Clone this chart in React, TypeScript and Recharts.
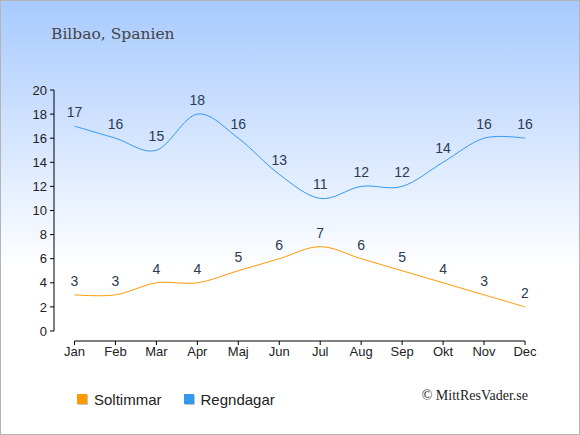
import React from "react";
import {
  LineChart,
  Line,
  XAxis,
  YAxis,
  LabelList,
  ReferenceLine,
} from "recharts";

// Bilbao — sun hours vs rainy days per month
const MONTHS = ["Jan", "Feb", "Mar", "Apr", "Maj", "Jun", "Jul", "Aug", "Sep", "Okt", "Nov", "Dec"];
const SOLTIMMAR = [3, 3, 4, 4, 5, 6, 7, 6, 5, 4, 3, 2];
const REGNDAGAR = [17, 16, 15, 18, 16, 13, 11, 12, 12, 14, 16, 16];
const Y_TICKS = [0, 2, 4, 6, 8, 10, 12, 14, 16, 18, 20];
const X_TICKS = MONTHS.map((_, i) => i);

// axis domains leave a small gap at the corner, like the original
const X_MIN = -0.5;
const Y_MIN = -0.83;

const data = MONTHS.map((m, i) => ({
  i,
  month: m,
  sol: SOLTIMMAR[i],
  regn: REGNDAGAR[i],
}));

const SOL_COLOR = "#ff9900";
const REGN_COLOR = "#3399ee";
const LABEL_COLOR = "#2b3a55";
const SANS = "'Liberation Sans', Arial, sans-serif";

// cardinal spline (tension 0), same maths as d3's curveCardinal
class Cardinal {
  _context: any;
  _k: number;
  _line: number = NaN;
  _point = 0;
  _x0 = NaN; _x1 = NaN; _x2 = NaN;
  _y0 = NaN; _y1 = NaN; _y2 = NaN;
  constructor(context: any, tension: number) {
    this._context = context;
    this._k = (1 - tension) / 6;
  }
  areaStart() { this._line = 0; }
  areaEnd() { this._line = NaN; }
  lineStart() {
    this._x0 = this._x1 = this._x2 = this._y0 = this._y1 = this._y2 = NaN;
    this._point = 0;
  }
  lineEnd() {
    switch (this._point) {
      case 2: this._context.lineTo(this._x2, this._y2); break;
      case 3: this.seg(this._x1, this._y1); break;
    }
    if (this._line || (this._line !== 0 && this._point === 1)) this._context.closePath();
    this._line = 1 - this._line;
  }
  seg(x: number, y: number) {
    this._context.bezierCurveTo(
      this._x1 + this._k * (this._x2 - this._x0),
      this._y1 + this._k * (this._y2 - this._y0),
      this._x2 + this._k * (this._x1 - x),
      this._y2 + this._k * (this._y1 - y),
      this._x2,
      this._y2
    );
  }
  point(x: number, y: number) {
    x = +x; y = +y;
    switch (this._point) {
      case 0:
        this._point = 1;
        this._line ? this._context.lineTo(x, y) : this._context.moveTo(x, y);
        break;
      case 1:
        this._point = 2;
        this._x1 = x; this._y1 = y;
        break;
      case 2:
        this._point = 3;
        this.seg(x, y);
        break;
      default:
        this.seg(x, y);
        break;
    }
    this._x0 = this._x1; this._x1 = this._x2; this._x2 = x;
    this._y0 = this._y1; this._y1 = this._y2; this._y2 = y;
  }
}

const cardinal = (context: any) => new Cardinal(context, 0);

function LegendItem({ color, label }: { color: string; label: string }) {
  return (
    <div style={{ display: "flex", alignItems: "center", marginRight: 22 }}>
      <span
        style={{
          width: 10,
          height: 10,
          background: color,
          boxShadow: "1px 1px 0 #c4c4c4",
          marginRight: 7,
        }}
      />
      <span style={{ fontFamily: SANS, fontSize: 15, color: "#222" }}>{label}</span>
    </div>
  );
}

export default function App() {
  return (
    <div
      style={{
        position: "relative",
        width: 580,
        height: 435,
        boxSizing: "border-box",
        border: "1px solid #b4b4b4",
        background: "linear-gradient(to bottom, #a8caff 0%, #ffffff 62%, #ffffff 100%)",
        overflow: "hidden",
      }}
    >
      <style>{"body{margin:0}"}</style>
      <div
        style={{
          position: "absolute",
          left: 50,
          top: 25,
          fontFamily: "'DejaVu Serif', serif",
          fontSize: 15.5,
          lineHeight: "16px",
          color: "#444",
        }}
      >
        Bilbao, Spanien
      </div>

      <div style={{ position: "absolute", left: -1, top: -1 }}>
        <LineChart
          width={580}
          height={435}
          data={data}
          margin={{ top: 90, right: 55, bottom: 64, left: 24 }}
        >
          <XAxis
            type="number"
            dataKey="i"
            domain={[X_MIN, 11]}
            ticks={X_TICKS}
            interval={0}
            allowDataOverflow
            tickFormatter={(v) => MONTHS[v]}
            axisLine={false}
            tickLine={{ stroke: "#000" }}
            tickSize={4}
            tickMargin={2}
            height={30}
            tick={{ fill: "#222", fontSize: 13, fontFamily: SANS }}
          />
          <YAxis
            domain={[Y_MIN, 20]}
            ticks={Y_TICKS}
            interval={0}
            allowDataOverflow
            axisLine={false}
            tickLine={{ stroke: "#000" }}
            tickSize={4}
            tickMargin={3}
            width={30}
            tick={{ fill: "#222", fontSize: 13, fontFamily: SANS }}
          />
          <ReferenceLine
            segment={[{ x: 0, y: Y_MIN }, { x: 11, y: Y_MIN }]}
            stroke="#000"
            ifOverflow="visible"
          />
          <ReferenceLine
            segment={[{ x: X_MIN, y: 0 }, { x: X_MIN, y: 20 }]}
            stroke="#000"
            ifOverflow="visible"
          />
          <Line
            dataKey="sol"
            type={cardinal as any}
            stroke={SOL_COLOR}
            strokeWidth={1}
            dot={false}
            activeDot={false}
            isAnimationActive={false}
          >
            <LabelList
              dataKey="sol"
              position="top"
              offset={9}
              fill={LABEL_COLOR}
              fontSize={14}
              fontFamily={SANS}
            />
          </Line>
          <Line
            dataKey="regn"
            type={cardinal as any}
            stroke={REGN_COLOR}
            strokeWidth={1}
            dot={false}
            activeDot={false}
            isAnimationActive={false}
          >
            <LabelList
              dataKey="regn"
              position="top"
              offset={9}
              fill={LABEL_COLOR}
              fontSize={14}
              fontFamily={SANS}
            />
          </Line>
        </LineChart>
      </div>

      <div
        style={{
          position: "absolute",
          left: 76,
          top: 387,
          height: 22,
          display: "flex",
          alignItems: "center",
        }}
      >
        <LegendItem color={SOL_COLOR} label="Soltimmar" />
        <LegendItem color={REGN_COLOR} label="Regndagar" />
      </div>

      <div
        style={{
          position: "absolute",
          right: 51,
          top: 388,
          fontFamily: "'Liberation Serif', serif",
          fontSize: 14,
          lineHeight: "14px",
          color: "#222",
        }}
      >
        © MittResVader.se
      </div>
    </div>
  );
}
